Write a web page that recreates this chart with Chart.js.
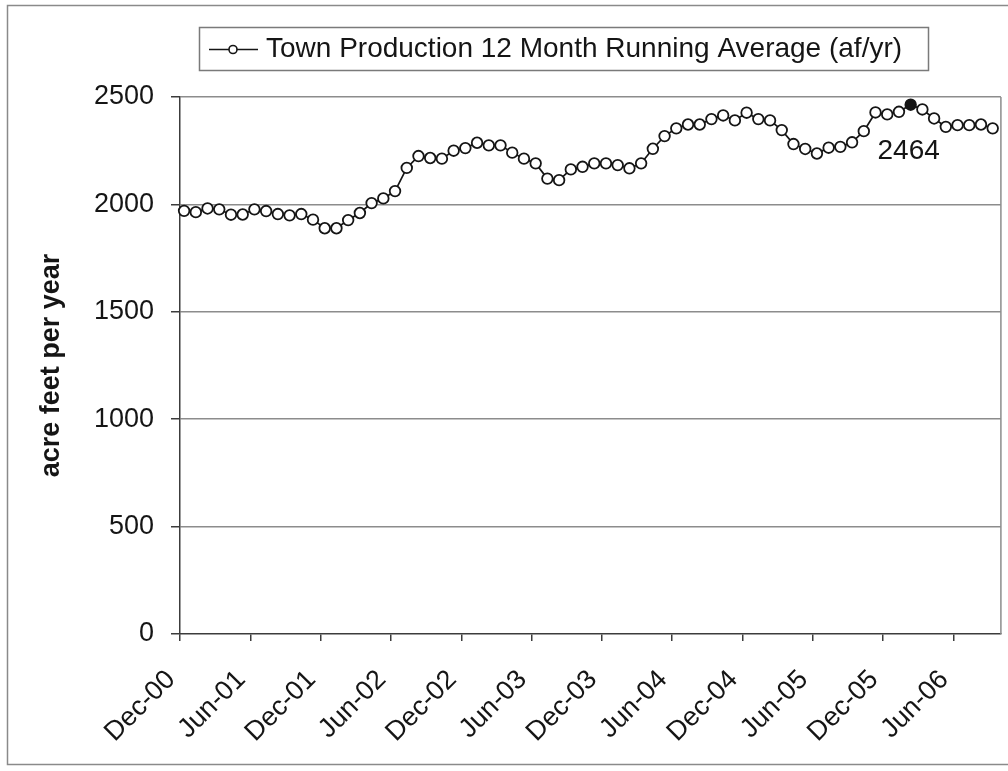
<!DOCTYPE html>
<html>
<head>
<meta charset="utf-8">
<script src="https://cdn.jsdelivr.net/npm/chart.js@4/dist/chart.umd.min.js"></script>
<style>
  html, body { margin: 0; padding: 0; background: #fff; }
  #wrap { width: 1008px; height: 771px; }
</style>
</head>
<body>
<div id="wrap"><canvas id="c" width="1008" height="771"></canvas></div>
<script>
// Monthly categories, Dec-00 through Sep-06
const months = [
  'Dec-00','Jan-01','Feb-01','Mar-01','Apr-01','May-01','Jun-01','Jul-01','Aug-01','Sep-01','Oct-01','Nov-01',
  'Dec-01','Jan-02','Feb-02','Mar-02','Apr-02','May-02','Jun-02','Jul-02','Aug-02','Sep-02','Oct-02','Nov-02',
  'Dec-02','Jan-03','Feb-03','Mar-03','Apr-03','May-03','Jun-03','Jul-03','Aug-03','Sep-03','Oct-03','Nov-03',
  'Dec-03','Jan-04','Feb-04','Mar-04','Apr-04','May-04','Jun-04','Jul-04','Aug-04','Sep-04','Oct-04','Nov-04',
  'Dec-04','Jan-05','Feb-05','Mar-05','Apr-05','May-05','Jun-05','Jul-05','Aug-05','Sep-05','Oct-05','Nov-05',
  'Dec-05','Jan-06','Feb-06','Mar-06','Apr-06','May-06','Jun-06','Jul-06','Aug-06','Sep-06'
];

// 12 month running average of town production, acre feet per year
const production = [
  1970, 1964, 1981, 1977, 1952, 1953, 1977, 1969, 1955, 1949, 1955, 1929,
  1889, 1889, 1927, 1960, 2006, 2028, 2062, 2170, 2225, 2216, 2213, 2250,
  2262, 2287, 2275, 2275, 2241, 2213, 2191, 2120, 2113, 2163, 2175, 2191,
  2191, 2183, 2168, 2191, 2259, 2318, 2354, 2372, 2372, 2397, 2414, 2391,
  2427, 2397, 2391, 2346, 2281, 2258, 2237, 2264, 2268, 2289, 2341, 2428,
  2419, 2431, 2464, 2442, 2400, 2361, 2369, 2369, 2372, 2354
];

// Axis tick labels (one every six months) and value ticks
const xTickLabels = ['Dec-00','Jun-01','Dec-01','Jun-02','Dec-02','Jun-03','Dec-03','Jun-04','Dec-04','Jun-05','Dec-05','Jun-06'];
const yTickValues = [0, 500, 1000, 1500, 2000, 2500];

const seriesName = 'Town Production 12 Month Running Average (af/yr)';
const yTitle = 'acre feet per year';

const FONT = '"Liberation Sans", Arial, Helvetica, sans-serif';
const INK = '#151515';
const AXIS = '#3c3c3c';
const GRID = '#8c8c8c';

const peakIndex = production.indexOf(Math.max(...production));
const X_SHIFT = 0.35;  // category ticks sit just before each point

// Page background, outer frame, right edge of the plot, legend box
const decor = {
  id: 'decor',
  beforeDraw(chart) {
    const c = chart.ctx;
    c.save();
    c.fillStyle = '#fff';
    c.fillRect(0, 0, chart.width, chart.height);
    c.strokeStyle = '#8a8a8a';
    c.lineWidth = 1.5;
    c.strokeRect(7.5, 5.5, 1010, 759);
    c.restore();
  },
  beforeDatasetsDraw(chart) {
    const c = chart.ctx, a = chart.chartArea;
    c.save();
    c.strokeStyle = GRID;
    c.lineWidth = 1.5;
    c.beginPath();
    c.moveTo(a.right, a.top);
    c.lineTo(a.right, a.bottom);
    c.stroke();
    c.restore();
  },
  afterDatasetsDraw(chart) {
    const c = chart.ctx;
    const pt = chart.getDatasetMeta(0).data[peakIndex];
    c.save();
    c.fillStyle = INK;
    c.font = '28px ' + FONT;
    c.textAlign = 'center';
    c.textBaseline = 'middle';
    c.fillText(String(production[peakIndex]), pt.x - 2, pt.y + 47);
    c.restore();
  },
  afterDraw(chart) {
    const c = chart.ctx;
    c.save();
    // legend frame
    c.strokeStyle = '#7a7a7a';
    c.lineWidth = 1.5;
    c.strokeRect(199.5, 27.5, 729, 43);
    // legend symbol
    const ly = 49.5;
    c.strokeStyle = INK;
    c.lineWidth = 1.6;
    c.beginPath();
    c.moveTo(209, ly);
    c.lineTo(258, ly);
    c.stroke();
    c.beginPath();
    c.arc(233, ly, 4, 0, Math.PI * 2);
    c.fillStyle = '#fff';
    c.fill();
    c.stroke();
    // legend text, fitted to the frame
    c.font = '28px ' + FONT;
    c.fillStyle = INK;
    c.textBaseline = 'middle';
    c.textAlign = 'left';
    const target = 651;
    const w = c.measureText(seriesName).width;
    const sx = Math.min(1, target / w);
    c.translate(266, ly);
    c.scale(sx, 1);
    c.fillText(seriesName, 0, 0);
    c.restore();
  }
};

new Chart(document.getElementById('c'), {
  type: 'line',
  data: {
    datasets: [{
      label: seriesName,
      data: production.map((v, i) => ({ x: i, y: v })),
      borderColor: INK,
      borderWidth: 1.7,
      tension: 0,
      pointRadius: 5.3,
      pointBorderWidth: 1.8,
      pointBorderColor: INK,
      pointBackgroundColor: production.map((_, i) => i === peakIndex ? INK : '#fff'),
      clip: false
    }]
  },
  options: {
    responsive: false,
    animation: false,
    devicePixelRatio: 1,
    layout: { padding: { top: 97, right: 3, bottom: 0, left: 0 } },
    plugins: {
      legend: { display: false },
      tooltip: { enabled: false }
    },
    scales: {
      x: {
        type: 'linear',
        bounds: 'data',
        min: -X_SHIFT,
        max: months.length - X_SHIFT + 0.05,
        afterBuildTicks(scale) {
          scale.ticks = xTickLabels.map((_, k) => ({ value: k * 6 - X_SHIFT }));
        },
        afterFit(scale) { scale.height = 137; },
        grid: {
          drawOnChartArea: false,
          drawTicks: true,
          tickLength: 7,
          tickColor: AXIS,
          lineWidth: 1.5
        },
        border: { color: AXIS, width: 1.5 },
        ticks: {
          autoSkip: false,
          minRotation: 45,
          maxRotation: 45,
          padding: 23,
          labelOffset: -9,
          color: INK,
          font: { family: FONT, size: 27 },
          callback: (value, index) => xTickLabels[index]
        }
      },
      y: {
        min: 0,
        max: 2500,
        afterBuildTicks(scale) {
          scale.ticks = yTickValues.map(v => ({ value: v }));
        },
        afterFit(scale) { scale.width = 180; },
        grid: {
          color: ctx => (ctx.tick && ctx.tick.value === 0) ? 'rgba(0,0,0,0)' : GRID,
          lineWidth: 1.5,
          tickLength: 9,
          tickColor: AXIS
        },
        border: { color: AXIS, width: 1.5 },
        ticks: {
          padding: 17,
          color: INK,
          font: { family: FONT, size: 27 },
          callback: value => String(value)
        },
        title: {
          display: true,
          text: yTitle,
          color: INK,
          font: { family: FONT, size: 27, weight: 'bold' },
          padding: { top: 35, bottom: 0 }
        }
      }
    }
  },
  plugins: [decor]
});
</script>
</body>
</html>
